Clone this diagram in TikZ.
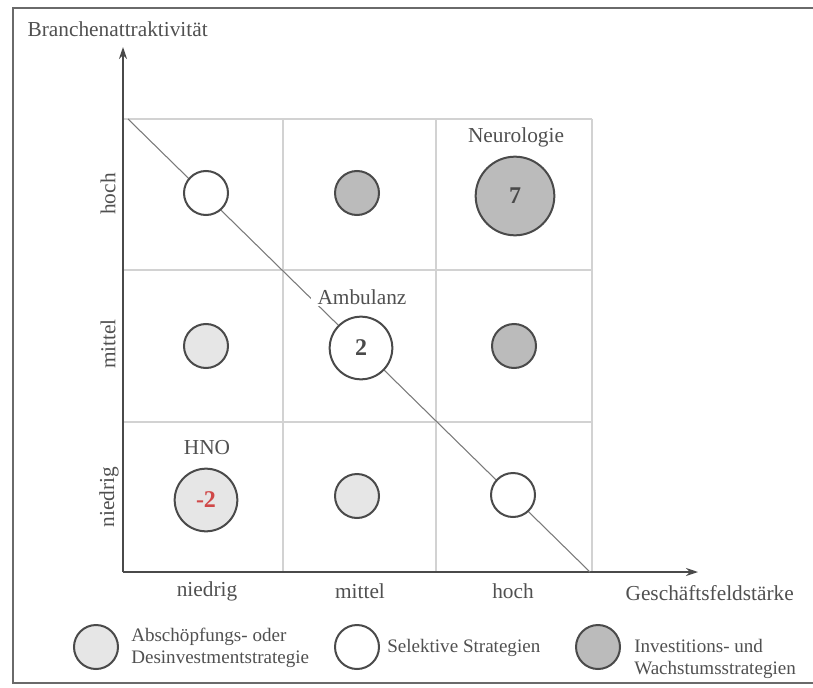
\documentclass[tikz,border=0pt]{standalone}
\usepackage{fontspec}
\setmainfont{Liberation Serif}
\usetikzlibrary{arrows.meta}

\definecolor{ink}{HTML}{4A4A4A}
\definecolor{txt}{HTML}{505050}
\definecolor{framec}{HTML}{6A6A6A}
\definecolor{gridc}{HTML}{D2D2D2}
\definecolor{diagc}{HTML}{7A7A7A}
\definecolor{darkfill}{HTML}{BBBBBB}
\definecolor{lightfill}{HTML}{E6E6E6}
\definecolor{numred}{HTML}{D04848}

\begin{document}
\begin{tikzpicture}[x=0.75pt,y=-0.75pt,
  lbl/.style={font=\fontsize{16}{18}\selectfont, text=txt, inner sep=1pt},
  legtext/.style={font=\fontsize{14.3}{16.5}\selectfont, text=txt, align=left, anchor=west, inner sep=0pt},
  bubble/.style={circle, draw=ink, line width=1.5pt, inner sep=0pt, text=ink},
  bsmall/.style={bubble, minimum size=33pt},
  bmid/.style={bubble, minimum size=47pt},
  bbig/.style={bubble, minimum size=59pt},
  csel/.style={fill=white},
  cinv/.style={fill=darkfill},
  cabs/.style={fill=lightfill},
  num/.style={font=\fontsize{18}{20}\selectfont\bfseries},
  gridline/.style={draw=gridc, line width=1pt},
  axis/.style={draw=ink, line width=1.2pt, -{Stealth[length=9pt,width=6pt]}}
]
% page size
\useasboundingbox (0,0) rectangle (813,688);

% outer frame (open to the right)
\draw[draw=framec, line width=1.5pt] (813,8) -- (13,8) -- (13,683) -- (813,683);

% portfolio grid
\draw[gridline] (123,119) -- (592,119);
\draw[gridline] (123,270) -- (592,270);
\draw[gridline] (123,422) -- (592,422);
\draw[gridline] (283,119) -- (283,572);
\draw[gridline] (436,119) -- (436,572);
\draw[gridline] (592,119) -- (592,572);

% axes
\coordinate (O) at (123,572);
\coordinate (ytip) at (123,47);
\coordinate (xtip) at (698,572);
\draw[axis] (O) -- (ytip);
\draw[axis] (O) -- (xtip);

% diagonal separating the strategy zones
\coordinate (dA) at (128,119);
\coordinate (dB) at (590,572);
\draw[draw=diagc, line width=0.8pt] (dA) -- (dB);

% axis titles
\node[lbl, anchor=west] (ytitle) at (26,29) {Branchenattraktivität};
\node[lbl, anchor=west] (xtitle) at (624,593) {Geschäftsfeldstärke};

% tick labels
\node[lbl, rotate=90] (yhoch) at (108,194) {hoch};
\node[lbl, rotate=90] (ymittel) at (108,344) {mittel};
\node[lbl, rotate=90] (yniedrig) at (109,497) {niedrig};
\node[lbl] (xniedrig) at (207,591) {niedrig};
\node[lbl] (xmittel) at (360,591) {mittel};
\node[lbl] (xhoch) at (513,591) {hoch};

% bubbles: row hoch
\node[bsmall, csel] (b11) at (206,193) {};
\node[bsmall, cinv] (b21) at (357,193) {};
\node[bbig, cinv, num] (b31) at (515,196) {7};
\node[lbl] (neuro) at (516,137) {Neurologie};

% bubbles: row mittel
\node[bsmall, cabs] (b12) at (206,346) {};
\node[lbl, fill=white, inner xsep=5pt] (amb) at (362,297) {Ambulanz};
\node[bmid, csel, num] (b22) at (361,348) {2};
\node[bsmall, cinv] (b32) at (514,346) {};

% bubbles: row niedrig
\node[lbl] (hno) at (207,448) {HNO};
\node[bmid, cabs, num, text=numred] (b13) at (206,500) {-2};
\node[bsmall, cabs] (b23) at (357,496) {};
\node[bsmall, csel] (b33) at (513,495) {};

% legend
\node[bsmall, cabs] (l1) at (96,647) {};
\node[legtext] (l1t) at (131,648) {Abschöpfungs- oder\\Desinvestmentstrategie};
\node[bsmall, csel] (l2) at (357,647) {};
\node[legtext] (l2t) at (387,648) {Selektive Strategien};
\node[bsmall, cinv] (l3) at (598,647) {};
\node[legtext] (l3t) at (634,659) {Investitions- und\\Wachstumsstrategien};
\end{tikzpicture}
\end{document}
